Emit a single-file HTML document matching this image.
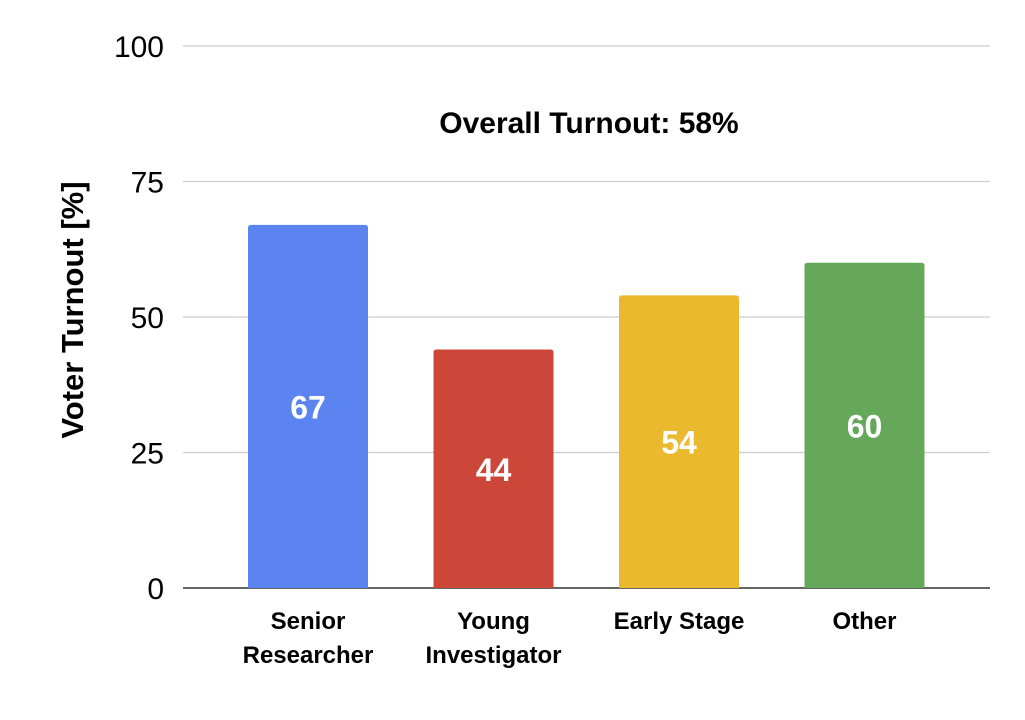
<!DOCTYPE html>
<html><head><meta charset="utf-8"><style>
body{margin:0;background:#fff;}
svg{display:block;font-family:"Liberation Sans",Arial,sans-serif;}
</style></head><body>
<svg id="chart" width="1025" height="720" viewBox="0 0 1025 720">
<g id="grid"></g>
<g id="bars"></g>
<g id="xlabels"></g>
<text x="589" y="133" text-anchor="middle" font-size="30" font-weight="bold" fill="#000">Overall Turnout: 58%</text>
<text transform="translate(83,310) rotate(-90)" text-anchor="middle" font-size="31" font-weight="bold" fill="#000">Voter Turnout [%]</text>
</svg>
<script>
const categories=[["Senior","Researcher"],["Young","Investigator"],["Early Stage"],["Other"]];
const values=[67,44,54,60];
const colors=["#5b84f0","#cc4639","#ebb92e","#66a85a"];
const ticks=[0,25,50,75,100];
const NS="http://www.w3.org/2000/svg";
const y0=588,y1=46,left=183,right=990;
function y(v){return y0-(v/100)*(y0-y1);}
const step=185.5,first=308,bw=120;
function x(i){return first+i*step;}
const grid=document.getElementById('grid');
ticks.forEach(t=>{
 const l=document.createElementNS(NS,'line');
 
 
 l.setAttribute('x1',left);l.setAttribute('x2',right);
 l.setAttribute('y1',y(t));l.setAttribute('y2',y(t));
 l.setAttribute('stroke',t===0?'#333':'#ccc');l.setAttribute('stroke-width',t===0?1.5:1.2);
 grid.appendChild(l);
 const tx=document.createElementNS(NS,'text');
 
 
 tx.setAttribute('x',164);tx.setAttribute('y',y(t)+11);
 tx.setAttribute('text-anchor','end');tx.setAttribute('font-size','30');
 tx.textContent=t;grid.appendChild(tx);
});
const bars=document.getElementById('bars');
values.forEach((v,i)=>{
 const r=document.createElementNS(NS,'path');
 
 
 const xl=x(i)-bw/2,yt=y(v),rr=3;
 r.setAttribute('d',`M${xl},${y0} L${xl},${yt+rr} Q${xl},${yt} ${xl+rr},${yt} L${xl+bw-rr},${yt} Q${xl+bw},${yt} ${xl+bw},${yt+rr} L${xl+bw},${y0} Z`);
 r.setAttribute('fill',colors[i]);
 bars.appendChild(r);
 const t=document.createElementNS(NS,'text');
 
 
 t.setAttribute('x',x(i));t.setAttribute('y',(yt+y0)/2+12);
 t.setAttribute('text-anchor','middle');t.setAttribute('font-size','32');
 t.setAttribute('font-weight','bold');t.setAttribute('fill','#fff');
 t.textContent=v;bars.appendChild(t);
});
const xl=document.getElementById('xlabels');
categories.forEach((c,i)=>{
 c.forEach((line,j)=>{
  const t=document.createElementNS(NS,'text');
  
  
  t.setAttribute('x',x(i));t.setAttribute('y',629+j*34);
  t.setAttribute('text-anchor','middle');t.setAttribute('font-size','24');
  t.setAttribute('font-weight','bold');
  t.textContent=line;xl.appendChild(t);
 });
});
</script>
</body></html>
